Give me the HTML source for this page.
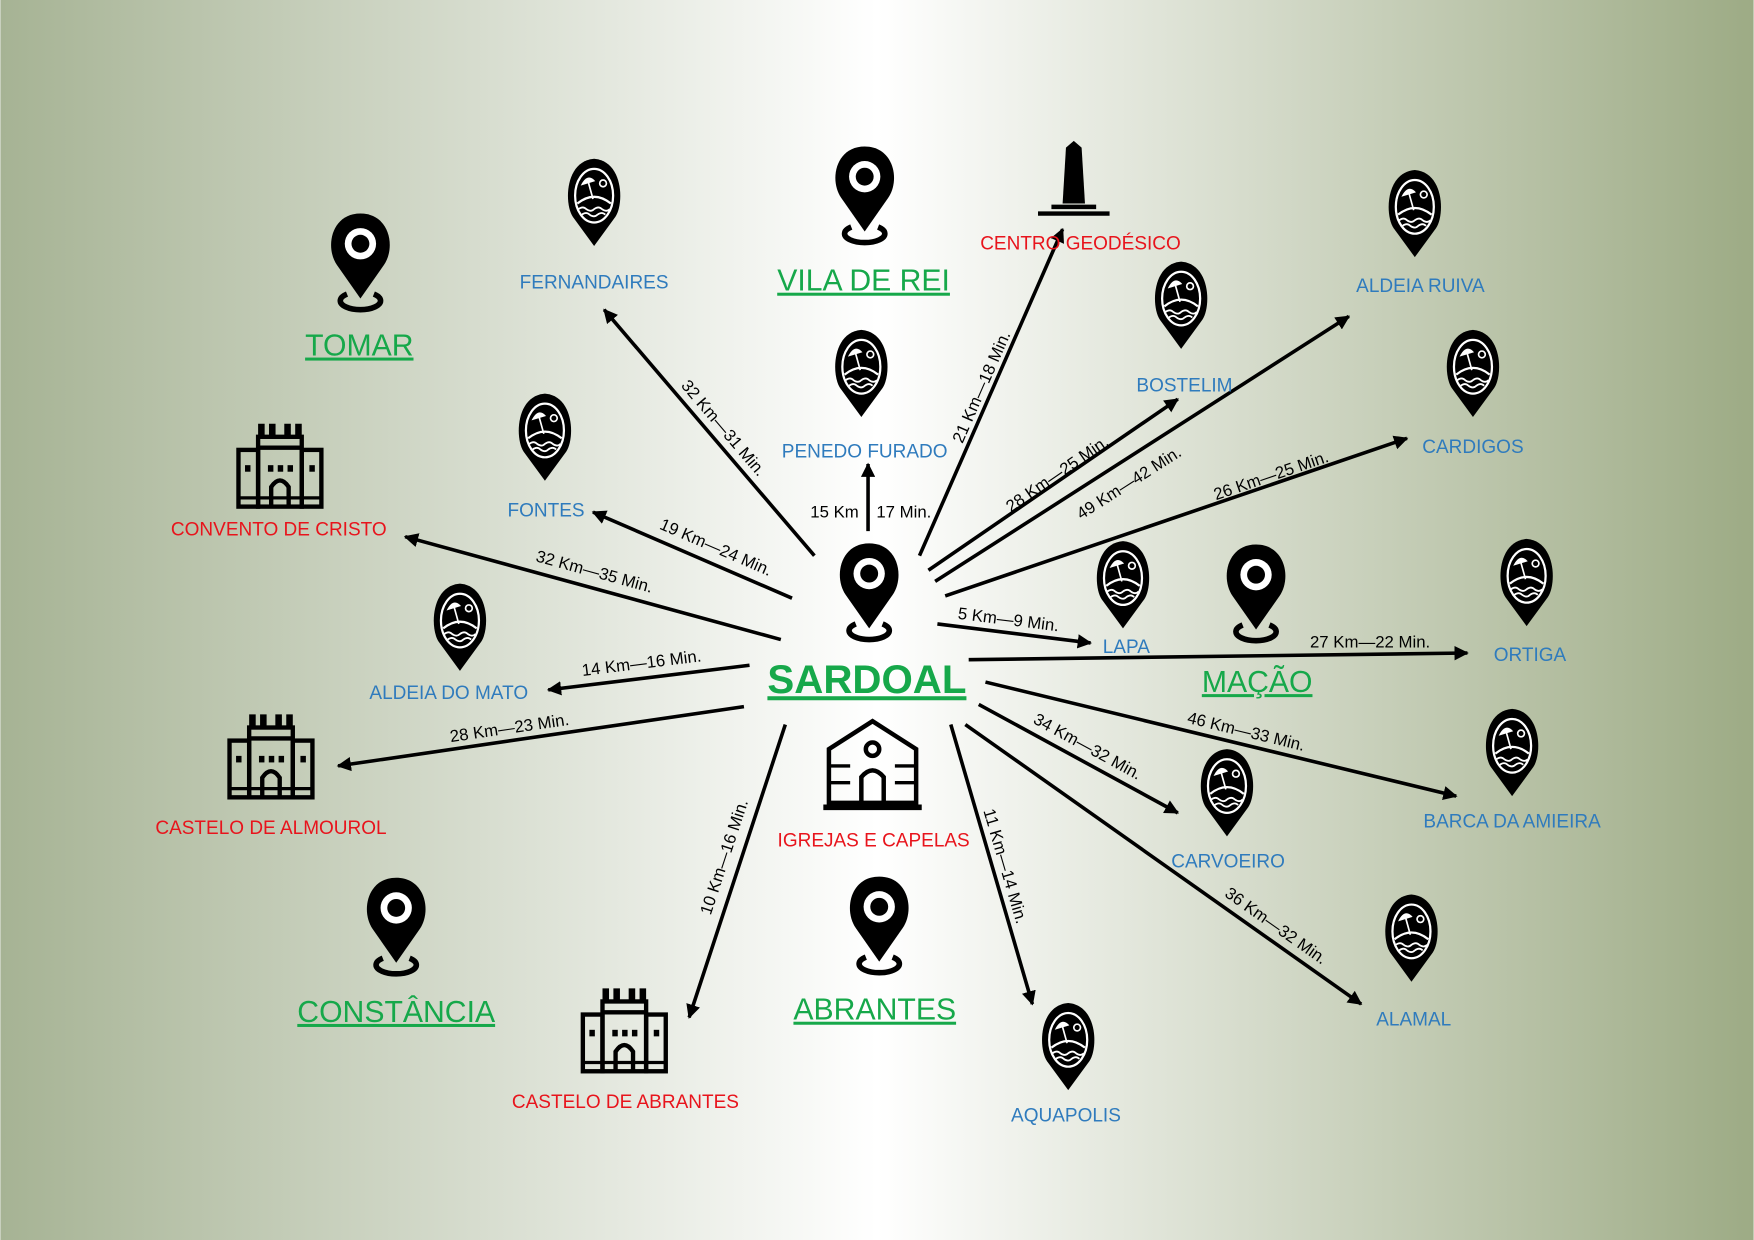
<!DOCTYPE html>
<html><head><meta charset="utf-8"><style>
html,body{margin:0;padding:0;width:1754px;height:1240px;overflow:hidden}
svg{display:block}
text{font-family:"Liberation Sans",sans-serif}
.b{fill:#2f7bbd;font-size:17px;text-anchor:middle}
.r{fill:#e8141c;font-size:17px;text-anchor:middle}
.g{fill:#16a84a;font-size:27px;text-anchor:middle;text-decoration:underline}
.k{fill:#000;font-size:15px;text-anchor:middle}
line{stroke:#000;stroke-width:3.2}
</style></head><body>
<svg width="1754" height="1240" viewBox="0 0 1568 1109" xmlns="http://www.w3.org/2000/svg">
<defs>
<linearGradient id="bg" x1="0" x2="1" y1="0" y2="0">
<stop offset="0" stop-color="#a6b394"/><stop offset="0.5" stop-color="#ffffff"/><stop offset="1" stop-color="#9dab85"/>
</linearGradient>
<marker id="ar" viewBox="0 0 10 10" refX="9" refY="5" markerWidth="4" markerHeight="4" orient="auto"><path d="M0,0 L10,5 L0,10 Z" fill="#000"/></marker>
<symbol id="pin" viewBox="0 0 60 92">
<path d="M18 74 A18 8 0 1 0 42 74" fill="none" stroke="#000" stroke-width="5"/>
<path d="M30 78 L9 48 C-2 32 4 2 30 2 C56 2 62 32 51 48 Z" fill="#000"/>
<circle cx="30" cy="29" r="14" fill="#fff"/><circle cx="30" cy="29" r="8" fill="#000"/>
</symbol>
<symbol id="bp" viewBox="0 0 50 82">
<path d="M25 80 L6 54 C-2 42 -1 4 25 2 C51 4 52 42 44 54 Z" fill="#000"/>
<ellipse cx="25" cy="35" rx="17" ry="24" fill="none" stroke="#fff" stroke-width="2"/>
<path d="M13 26 Q19 14 26 22 Z" fill="#fff"/><line x1="19" y1="20" x2="24" y2="38" style="stroke:#fff;stroke-width:1.5"/>
<circle cx="33" cy="24" r="3" fill="none" stroke="#fff" stroke-width="1.5"/>
<path d="M10 42 Q25 30 40 42" fill="none" stroke="#fff" stroke-width="2"/>
<path d="M11 47 q4 -3 7 0 q4 3 7 0 q4 -3 7 0 q4 3 7 0" fill="none" stroke="#fff" stroke-width="1.6"/>
<path d="M14 52 q4 -3 7 0 q4 3 7 0 q4 -3 7 0" fill="none" stroke="#fff" stroke-width="1.6"/>
</symbol>
<symbol id="cas" viewBox="0 0 82 82">
<g fill="none" stroke="#000" stroke-width="4">
<rect x="3" y="26" width="18" height="52"/><rect x="61" y="26" width="18" height="52"/>
<rect x="21" y="14" width="40" height="64"/><line x1="21" y1="24" x2="61" y2="24" style="stroke-width:4"/>
<path d="M33 78 V60 Q41 48 49 60 V78"/><line x1="3" y1="70" x2="79" y2="70" style="stroke-width:3"/>
</g>
<path d="M21 2h6v12h-6zM31 2h6v12h-6zM45 2h6v12h-6zM55 2h6v12h-6z" fill="#000"/>
<rect x="9" y="40" width="5" height="6"/><rect x="68" y="40" width="5" height="6"/>
<rect x="30" y="40" width="5" height="6"/><rect x="39" y="40" width="5" height="6"/><rect x="48" y="40" width="5" height="6"/>
</symbol>
</defs>
<rect width="1568" height="1109" fill="url(#bg)"/>

<g marker-end="url(#ar)">
<line x1="728" y1="497" x2="540" y2="277"/>
<line x1="776" y1="475" x2="776" y2="415"/>
<line x1="822" y1="497" x2="950" y2="205"/>
<line x1="830" y1="510" x2="1053" y2="357"/>
<line x1="836" y1="520" x2="1206" y2="283"/>
<line x1="845" y1="533" x2="1258" y2="392"/>
<line x1="838" y1="558" x2="975" y2="575"/>
<line x1="866" y1="590" x2="1312" y2="584"/>
<line x1="881" y1="610" x2="1302" y2="712"/>
<line x1="875" y1="630" x2="1053" y2="727"/>
<line x1="863" y1="648" x2="1217" y2="898"/>
<line x1="850" y1="648" x2="923" y2="898"/>
<line x1="702" y1="648" x2="616" y2="910"/>
<line x1="665" y1="632" x2="302" y2="685"/>
<line x1="670" y1="595" x2="490" y2="617"/>
<line x1="698" y1="572" x2="362" y2="480"/>
<line x1="708" y1="535" x2="530" y2="458"/>
</g>
<g class="k">
<text class="k" transform="translate(643,386) rotate(49.5)">32 Km—31 Min.</text>
<text class="k" x="746" y="463">15 Km</text><text class="k" x="808" y="463">17 Min.</text>
<text class="k" transform="translate(882,348) rotate(-66.3)">21 Km—18 Min.</text>
<text class="k" transform="translate(948,428) rotate(-34.5)">28 Km—25 Min.</text>
<text class="k" transform="translate(1012,436) rotate(-32.6)">49 Km—42 Min.</text>
<text class="k" transform="translate(1138,430) rotate(-18.9)">26 Km—25 Min.</text>
<text class="k" transform="translate(901,559) rotate(7.1)">5 Km—9 Min.</text>
<text class="k" x="1225" y="579">27 Km—22 Min.</text>
<text class="k" transform="translate(1113,659) rotate(13.6)">46 Km—33 Min.</text>
<text class="k" transform="translate(970,672) rotate(28.6)">34 Km—32 Min.</text>
<text class="k" transform="translate(1138,832) rotate(35.2)">36 Km—32 Min.</text>
<text class="k" transform="translate(894,776) rotate(73.7)">11 Km—14 Min.</text>
<text class="k" transform="translate(652,768) rotate(-71.8)">10 Km—16 Min.</text>
<text class="k" transform="translate(456,656) rotate(-8.3)">28 Km—23 Min.</text>
<text class="k" transform="translate(574,598) rotate(-7)">14 Km—16 Min.</text>
<text class="k" transform="translate(530,516) rotate(15.3)">32 Km—35 Min.</text>
<text class="k" transform="translate(638,494) rotate(23.4)">19 Km—24 Min.</text>
</g>

<use href="#pin" x="747" y="484" width="60" height="92"/>
<use href="#pin" x="743" y="129" width="60" height="92"/>
<use href="#pin" x="292" y="189" width="60" height="92"/>
<use href="#pin" x="1093" y="485" width="60" height="92"/>
<use href="#pin" x="324" y="783" width="60" height="92"/>
<use href="#pin" x="756" y="782" width="60" height="92"/>

<use href="#bp" x="506" y="140" width="50" height="82"/>
<use href="#bp" x="745" y="293" width="50" height="82"/>
<use href="#bp" x="462" y="350" width="50" height="82"/>
<use href="#bp" x="386" y="520" width="50" height="82"/>
<use href="#bp" x="1031" y="232" width="50" height="82"/>
<use href="#bp" x="1240" y="150" width="50" height="82"/>
<use href="#bp" x="1292" y="293" width="50" height="82"/>
<use href="#bp" x="979" y="482" width="50" height="82"/>
<use href="#bp" x="1340" y="480" width="50" height="82"/>
<use href="#bp" x="1327" y="632" width="50" height="82"/>
<use href="#bp" x="1072" y="668" width="50" height="82"/>
<use href="#bp" x="1237" y="798" width="50" height="82"/>
<use href="#bp" x="930" y="895" width="50" height="82"/>

<use href="#cas" x="210" y="377" width="80" height="80"/>
<use href="#cas" x="202" y="637" width="80" height="80"/>
<use href="#cas" x="518" y="882" width="80" height="80"/>

<g fill="none" stroke="#000" stroke-width="4">
<path d="M741 718 V670 L780 645 L819 670 V718 Z"/>
<line x1="736" y1="722" x2="824" y2="722" style="stroke-width:5"/>
<path d="M770 718 V695 Q780 683 790 695 V718"/>
<circle cx="780" cy="670" r="6"/>
<line x1="741" y1="685" x2="760" y2="685" style="stroke-width:3"/><line x1="800" y1="685" x2="819" y2="685" style="stroke-width:3"/>
<line x1="741" y1="700" x2="760" y2="700" style="stroke-width:3"/><line x1="800" y1="700" x2="819" y2="700" style="stroke-width:3"/>
</g>
<path d="M950 182 L953 132 L960 126 L967 132 L970 182 Z" fill="#000"/>
<line x1="940" y1="185" x2="980" y2="185" style="stroke-width:4"/>
<line x1="928" y1="191" x2="992" y2="191" style="stroke-width:4"/>

<text class="b" x="531" y="258">FERNANDAIRES</text>
<text class="g" x="772" y="260">VILA DE REI</text>
<text class="r" x="966" y="223">CENTRO GEODÉSICO</text>
<text class="b" x="1270" y="261">ALDEIA RUIVA</text>
<text class="g" x="321" y="318">TOMAR</text>
<text class="b" x="1059" y="350">BOSTELIM</text>
<text class="b" x="773" y="409">PENEDO FURADO</text>
<text class="b" x="1317" y="405">CARDIGOS</text>
<text class="r" x="249" y="479">CONVENTO DE CRISTO</text>
<text class="b" x="488" y="462">FONTES</text>
<text class="b" x="1007" y="584">LAPA</text>
<text class="g" x="1124" y="619">MAÇÃO</text>
<text class="b" x="1368" y="591">ORTIGA</text>
<text x="775" y="620" style="fill:#16a84a;font-size:36px;font-weight:bold;text-anchor:middle;text-decoration:underline">SARDOAL</text>
<text class="b" x="401" y="625">ALDEIA DO MATO</text>
<text class="r" x="242" y="746">CASTELO DE ALMOUROL</text>
<text class="r" x="781" y="757">IGREJAS E CAPELAS</text>
<text class="b" x="1352" y="740">BARCA DA AMIEIRA</text>
<text class="b" x="1098" y="776">CARVOEIRO</text>
<text class="b" x="1264" y="917">ALAMAL</text>
<text class="g" x="354" y="914">CONSTÂNCIA</text>
<text class="g" x="782" y="912">ABRANTES</text>
<text class="r" x="559" y="991">CASTELO DE ABRANTES</text>
<text class="b" x="953" y="1003">AQUAPOLIS</text>
</svg>
</body></html>
